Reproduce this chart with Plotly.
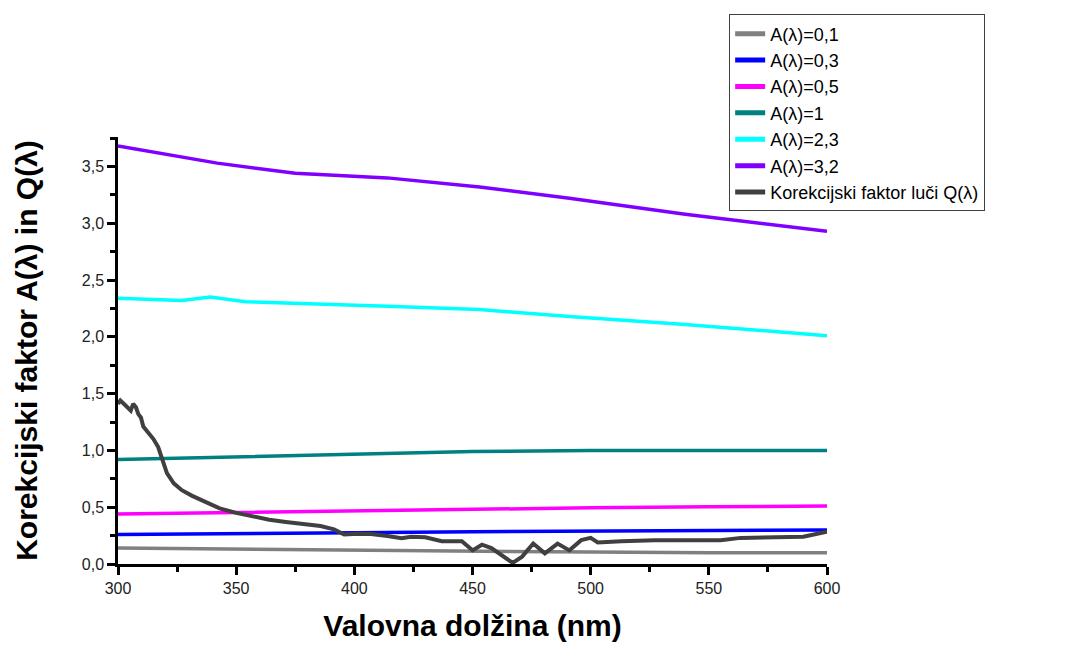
import plotly.graph_objects as go

# ---- data ----
wl_a01 = [300, 350, 400, 450, 500, 550, 600]
a01 = [0.14, 0.13, 0.12, 0.11, 0.105, 0.10, 0.10]

wl_a03 = [300, 350, 400, 450, 500, 550, 600]
a03 = [0.26, 0.265, 0.275, 0.285, 0.29, 0.295, 0.30]

wl_a05 = [300, 350, 400, 450, 500, 550, 600]
a05 = [0.44, 0.455, 0.47, 0.485, 0.495, 0.505, 0.51]

wl_a1 = [300, 350, 400, 450, 500, 550, 600]
a1 = [0.92, 0.945, 0.97, 0.99, 1.0, 1.0, 1.0]

wl_a23 = [300, 327, 339, 354, 414, 453, 491, 540, 600]
a23 = [2.34, 2.32, 2.35, 2.31, 2.27, 2.24, 2.18, 2.11, 2.01]

wl_a32 = [300, 342, 375, 414, 453, 491, 540, 600]
a32 = [3.68, 3.53, 3.44, 3.40, 3.32, 3.22, 3.08, 2.93]

wl_q = [300, 301, 303, 304, 305.4, 306.4, 307.6, 308.6, 309.7, 310.7, 313, 315, 317,
        318.6, 320.7, 323.6, 327, 331.4, 337, 343, 350, 357, 364, 371, 378.6, 385.7,
        391.4, 395.7, 401.4, 407, 414, 420, 424, 430, 437, 445.5, 450, 454, 458, 462,
        467, 471, 475.7, 480.6, 486, 491, 496, 500, 503, 513, 527, 541, 555, 563.5,
        576, 590, 600]
q = [1.41, 1.44, 1.40, 1.38, 1.35, 1.41, 1.38, 1.32, 1.29, 1.21, 1.15, 1.10, 1.03,
     0.92, 0.80, 0.71, 0.65, 0.60, 0.55, 0.49, 0.45, 0.416, 0.39, 0.37, 0.35, 0.334,
     0.305, 0.26, 0.267, 0.265, 0.247, 0.227, 0.24, 0.235, 0.20, 0.20, 0.12, 0.17, 0.14, 0.08,
     0.01, 0.065, 0.18, 0.094, 0.18, 0.12, 0.21, 0.23, 0.19, 0.20, 0.21, 0.21, 0.21, 0.23,
     0.235, 0.24, 0.285]

series = [
    ("A(λ)=0,1", wl_a01, a01, "#808080", 3.5),
    ("A(λ)=0,3", wl_a03, a03, "#0000ff", 3.5),
    ("A(λ)=0,5", wl_a05, a05, "#ff00ff", 3.5),
    ("A(λ)=1", wl_a1, a1, "#008080", 3.5),
    ("A(λ)=2,3", wl_a23, a23, "#00ffff", 3.5),
    ("A(λ)=3,2", wl_a32, a32, "#8000ff", 3.5),
    ("Korekcijski faktor luči Q(λ)", wl_q, q, "#404040", 4),
]

fig = go.Figure()
for name, xs, ys, col, w in series:
    fig.add_trace(go.Scatter(x=xs, y=ys, mode="lines", name=name,
                             line=dict(color=col, width=w)))

axis_common = dict(
    showline=True, linecolor="black", linewidth=2.5,
    ticks="outside", ticklen=8, tickwidth=2.5, tickcolor="black",
    showgrid=False, zeroline=False,
    tickfont=dict(family="Arial, Liberation Sans", size=16, color="#222"),
)

fig.update_layout(
    width=1076, height=650,
    margin=dict(l=118, r=249, t=137, b=78),
    paper_bgcolor="white", plot_bgcolor="white",
    separators=", ",
    showlegend=True,
    legend=dict(
        x=0.862, y=1.287, xanchor="left", yanchor="top",
        bordercolor="#404040", borderwidth=1,
        font=dict(family="Arial, Liberation Sans", size=18, color="black"),
        tracegroupgap=0, itemsizing="constant",
    ),
    xaxis=dict(
        range=[300, 600], tickvals=[300, 350, 400, 450, 500, 550, 600],
        minor=dict(dtick=25, tick0=300, ticks="outside", ticklen=5, tickwidth=2.5, tickcolor="black"),
        title=dict(text="<b>Valovna dolžina (nm)</b>", standoff=20,
                   font=dict(family="Arial, Liberation Sans", size=30, color="black")),
        **axis_common,
    ),
    yaxis=dict(
        range=[0, 3.76], tickvals=[0, 0.5, 1, 1.5, 2, 2.5, 3, 3.5], tickformat=".1f",
        minor=dict(dtick=0.25, tick0=0, ticks="outside", ticklen=5, tickwidth=2.5, tickcolor="black"),
        title=dict(text="<b>Korekcijski faktor A(λ) in Q(λ)</b>", standoff=36,
                   font=dict(family="Arial, Liberation Sans", size=30, color="black")),
        **axis_common,
    ),
)

fig.write_html("out.html")
